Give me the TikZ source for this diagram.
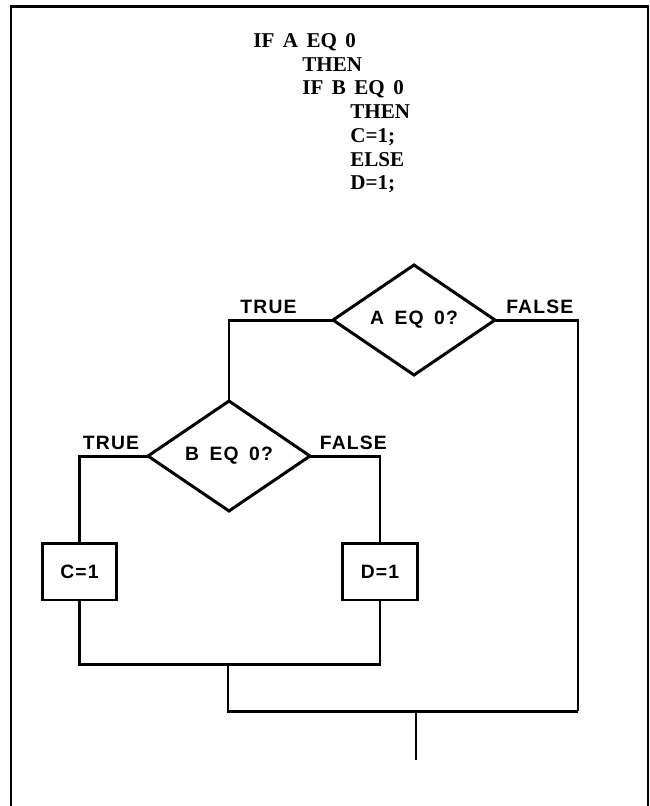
\documentclass[tikz,border=0pt]{standalone}
\usepackage{fontspec}
\setmainfont{Liberation Serif}[WordSpace=1.6]
\newfontfamily\flowfont{Liberation Sans}[LetterSpace=6,WordSpace=1.6]
\usetikzlibrary{shapes.geometric}

\tikzset{
  flow/.style={line width=1.7pt},
  test/.style={draw,diamond,flow,inner sep=0pt,outer sep=0pt,
    minimum width=3.24cm,minimum height=2.2cm,
    font=\flowfont\bfseries\fontsize{11}{12}\selectfont},
  assign/.style={draw,rectangle,flow,inner sep=0pt,outer sep=0pt,
    minimum width=1.5cm,minimum height=1.14cm,
    font=\flowfont\bfseries\fontsize{11}{12}\selectfont},
  branch/.style={above,inner sep=3pt,
    font=\flowfont\bfseries\fontsize{11}{12}\selectfont},
  codeline/.style={anchor=base west,inner sep=0pt,
    font=\bfseries\fontsize{12}{13}\selectfont}
}

\begin{document}
\begin{tikzpicture}[x=0.02cm,y=-0.02cm]
\useasboundingbox (0,0) rectangle (650,806);
\draw [flow] (11,806) -- (11,6) -- (648,6) -- (648,806);

\node [codeline] (ifa)   at (253, 47.5) {IF A EQ 0};
\node [codeline] (thena) at (302, 71.2) {THEN};
\node [codeline] (ifb)   at (302, 94.9) {IF B EQ 0};
\node [codeline] (thenb) at (350,118.6) {THEN};
\node [codeline] (setc)  at (350,142.3) {C=1;};
\node [codeline] (elseb) at (350,166.0) {ELSE};
\node [codeline] (setd)  at (350,189.7) {D=1;};

\node [test]   (testa) at (414,320) {A EQ 0?};
\node [test]   (testb) at (229,456) {B EQ 0?};
\node [assign] (setcbox) at (79.5,571.5) {C=1};
\node [assign] (setdbox) at (380,571.5) {D=1};

\coordinate (joincd)    at (228,664);
\coordinate (joinright) at (578,711);
\coordinate (joinall)   at (416,711);
\coordinate (exit)      at (416,760);

\draw [flow] (testa.west) -| node [branch,pos=0.31] (truea) {TRUE} (testb.north);
\draw [flow] (testa.east) -| node [branch,pos=0.27] (falsea) {FALSE} (joinright);
\draw [flow] (testb.west) -| node [branch,pos=0.27] (trueb) {TRUE} (setcbox.north);
\draw [flow] (testb.east) -| node [branch,pos=0.31] (falseb) {FALSE} (setdbox.north);
\draw [flow] (setcbox.south) |- (joincd) -| (setdbox.south);
\draw [flow] (joincd) |- (joinright);
\draw [flow] (joinall) -- (exit);
\end{tikzpicture}
\end{document}
